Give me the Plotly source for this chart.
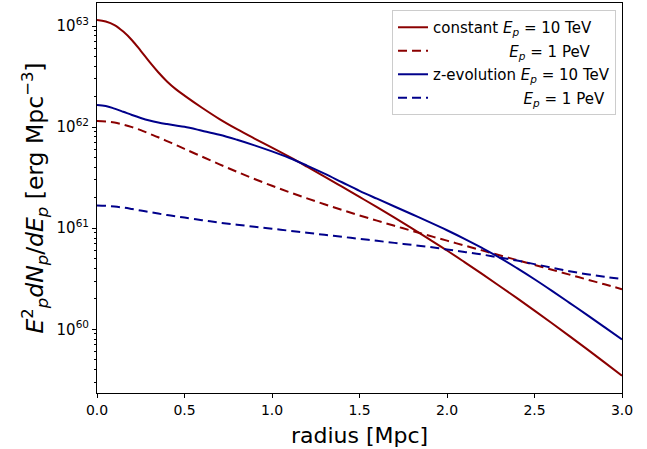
import plotly.graph_objects as go

radius = [0.0, 0.05, 0.1, 0.15, 0.2, 0.25, 0.3, 0.35, 0.4, 0.45, 0.5,
          0.6, 0.7, 0.8, 0.9, 1.0,
          1.1, 1.2, 1.3, 1.4, 1.5, 1.6, 1.7, 1.8, 1.9, 2.0,
          2.1, 2.2, 2.3, 2.4, 2.5, 2.6, 2.7, 2.8, 2.9, 3.0]

# log10 of E_p^2 dN_p/dE_p [erg Mpc^-3]
const_10TeV_log = [63.06, 63.045, 63.01, 62.945, 62.86, 62.755, 62.645, 62.543, 62.452, 62.376, 62.312,
                   62.192, 62.08, 61.98, 61.887, 61.797,
                   61.705, 61.609, 61.511, 61.411, 61.31, 61.208, 61.104, 60.998, 60.89, 60.78,
                   60.665, 60.548, 60.429, 60.308, 60.185, 60.06, 59.933, 59.804, 59.673, 59.54]
const_1PeV_log = [62.06, 62.056, 62.045, 62.025, 62.0, 61.97, 61.935, 61.9, 61.862, 61.824, 61.785,
                  61.708, 61.632, 61.558, 61.487, 61.42,
                  61.356, 61.295, 61.237, 61.181, 61.127, 61.075, 61.024, 60.974, 60.925, 60.877,
                  60.829, 60.781, 60.733, 60.685, 60.637, 60.589, 60.541, 60.493, 60.445, 60.397]
zevo_10TeV_log = [62.22, 62.21, 62.183, 62.152, 62.12, 62.091, 62.066, 62.046, 62.03, 62.016, 62.003,
                  61.965, 61.925, 61.875, 61.82, 61.76,
                  61.695, 61.62, 61.54, 61.455, 61.37, 61.292, 61.215, 61.138, 61.06, 60.98,
                  60.895, 60.805, 60.71, 60.605, 60.495, 60.38, 60.262, 60.143, 60.022, 59.90]
zevo_1PeV_log = [61.225, 61.222, 61.215, 61.204, 61.19, 61.175, 61.16, 61.145, 61.13, 61.117, 61.105,
                 61.08, 61.055, 61.035, 61.015, 60.995,
                 60.975, 60.955, 60.935, 60.915, 60.895, 60.875, 60.855, 60.835, 60.815, 60.79,
                 60.765, 60.74, 60.71, 60.68, 60.645, 60.61, 60.575, 60.545, 60.52, 60.497]

xticks = [0.0, 0.5, 1.0, 1.5, 2.0, 2.5, 3.0]
ytick_exps = [60, 61, 62, 63]

RED = "#8B0000"
BLUE = "#00008B"
NB = "\u00a0"
EP = "<i>E</i><sub><i>p</i></sub>"

series = [
    ("constant " + EP + " = 10 TeV", const_10TeV_log, RED, "solid"),
    (NB * 16 + EP + " = 1 PeV", const_1PeV_log, RED, "9px,5px"),
    ("z-evolution " + EP + " = 10 TeV", zevo_10TeV_log, BLUE, "solid"),
    (NB * 19 + EP + " = 1 PeV", zevo_1PeV_log, BLUE, "9px,5px"),
]

fig = go.Figure()
for i, (name, vals, color, dash) in enumerate(series):
    fig.add_trace(go.Scatter(
        x=radius, y=[10.0 ** v for v in vals], mode="lines", name=name,
        legendgroup=f"g{i}",
        line=dict(color=color, width=2, dash=dash, shape="spline", smoothing=1.0),
    ))

minor_vals = []
for e in range(59, 64):
    for m in range(2, 10):
        minor_vals.append(float(m) * 10.0 ** e)

fig.update_layout(
    width=647, height=449,
    margin=dict(l=97, r=25, t=3, b=56),
    paper_bgcolor="white", plot_bgcolor="white",
    font=dict(family="DejaVu Sans", color="black", size=14),
    showlegend=True,
    legend=dict(
        x=0.9886, y=0.982, xanchor="right", yanchor="top",
        bgcolor="white", bordercolor="#cccccc", borderwidth=1,
        font=dict(size=15, family="DejaVu Sans"),
        tracegroupgap=1,
    ),
)
fig.update_xaxes(
    range=[0, 3], tickvals=xticks, ticktext=[f"{v:.1f}" for v in xticks],
    ticks="outside", ticklen=4, tickwidth=1, tickcolor="black",
    showline=True, linecolor="black", linewidth=1, mirror=True,
    showgrid=False, zeroline=False, automargin=False,
    tickfont=dict(size=14),
    title=dict(text="radius [Mpc]", font=dict(size=22), standoff=10),
)
fig.update_yaxes(
    type="log", range=[59.37, 63.228],
    tickvals=[10.0 ** e for e in ytick_exps],
    ticktext=[f"10<sup>{e}</sup>" for e in ytick_exps],
    ticks="outside", ticklen=4, tickwidth=1, tickcolor="black",
    minor=dict(tickvals=minor_vals, ticks="outside", ticklen=2, tickcolor="black", showgrid=False),
    showline=True, linecolor="black", linewidth=1, mirror=True,
    showgrid=False, zeroline=False, automargin=False,
    tickfont=dict(size=15),
    title=dict(text="<i>E</i><sup>2</sup><sub><i>p</i></sub><i>dN</i><sub><i>p</i></sub>/<i>dE</i><sub><i>p</i></sub> [erg Mpc<sup>−3</sup>]",
               font=dict(size=23.5), standoff=6),
)

fig.write_html("out.html", config={"displayModeBar": False},
               post_script="document.body.style.margin='0';")
